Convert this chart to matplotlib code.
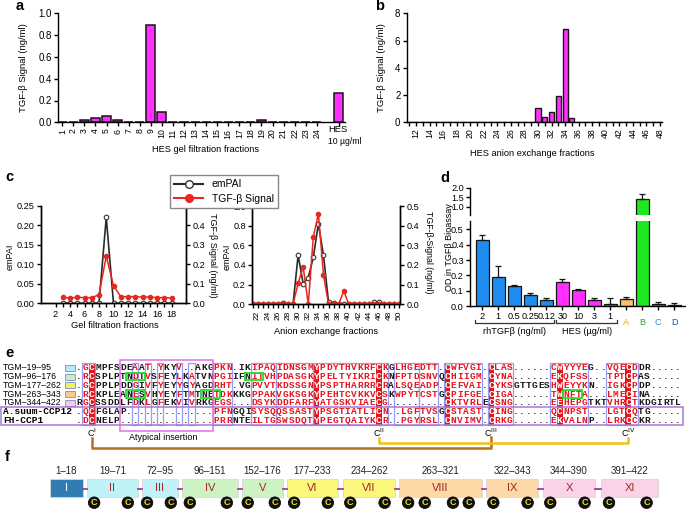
import matplotlib
matplotlib.use('Agg')
import matplotlib.pyplot as plt
from matplotlib.patches import Rectangle, Circle
from matplotlib.lines import Line2D
import numpy as np

W, H = 686, 512
plt.rcParams['font.family'] = ['Liberation Sans', 'DejaVu Sans']
plt.rcParams['axes.linewidth'] = 1.0
plt.rcParams['xtick.major.size'] = 3
plt.rcParams['ytick.major.size'] = 3
plt.rcParams['xtick.major.width'] = 1.0
plt.rcParams['ytick.major.width'] = 1.0
plt.rcParams['xtick.major.pad'] = 1.5
plt.rcParams['ytick.major.pad'] = 1.5
plt.rcParams['xtick.labelsize'] = 6.3
plt.rcParams['ytick.labelsize'] = 7
plt.rcParams['legend.framealpha'] = 1

# ---------------- data ----------------
# panel a
gel_fractions = [str(i) for i in range(1, 25)]
gel_signal = [0, 0, 0.02, 0.04, 0.06, 0.02, 0.005, 0, 0.89, 0.09, 0, 0,
              0, 0, 0, 0, 0, 0, 0.025, 0, 0, 0, 0, 0]
hes_label = 'HES'
hes_signal = 0.27

# panel b
aex_fractions = list(range(11, 49))
aex_signal = [0, 0, 0, 0, 0, 0, 0, 0, 0, 0,
              0, 0, 0, 0, 0, 0, 0, 0, 0,
              1.05, 0.40, 0.75, 1.95, 6.85, 0.30,
              0, 0, 0, 0, 0, 0, 0, 0, 0, 0, 0, 0, 0]

# panel c (left: gel filtration, right: anion exchange)
gf_fractions = list(range(3, 19))
gf_empai = [0, 0, 0, 0, 0, 0, 0.22, 0, 0, 0, 0, 0, 0, 0, 0, 0]
gf_tgf = [0.030, 0.027, 0.031, 0.029, 0.029, 0.044, 0.242, 0.090,
          0.034, 0.034, 0.034, 0.032, 0.032, 0.029, 0.029, 0.027]

ae_fractions = list(range(21, 51))
ae_empai = [0, 0, 0, 0, 0, 0, 0.01, 0, 0,
            0.50, 0.21, 0.27, 0.48, 0.82, 0.50,
            0.02, 0.01, 0, 0, 0, 0.005, 0, 0, 0,
            0.02, 0.02, 0, 0, 0, 0]
ae_tgf = [0, 0, 0, 0, 0, 0, 0, 0, 0,
          0.107, 0.19, 0, 0.344, 0.46, 0.15,
          0, 0, 0, 0.068, 0, 0, 0, 0, 0, 0, 0, 0, 0, 0, 0]

# panel d
d_labels = ['2', '1', '0.5', '0.25', '0.12', '30', '10', '3', '1', 'A', 'B', 'C', 'D']
d_values = [0.434, 0.192, 0.133, 0.070, 0.037, 0.159, 0.103, 0.037, 0.015,
            0.048, 1.42, 0.015, 0.009]
d_err = [0.031, 0.072, 0.004, 0.015, 0.018, 0.016, 0.008, 0.013, 0.037,
         0.011, 0.25, 0.009, 0.013]
d_groups = ['rhTGFβ (ng/ml)', 'HES (µg/ml)']

# panel e
seq_names = ['TGM–19–95', 'TGM–96–176', 'TGM–177–262', 'TGM–263–343', 'TGM–344–422',
             'A.suum-CCP12', 'FH-CCP1']
seqs = [
    ".GCMPFSDEAAT.YKYV..AKGPKN.IKIPAQIDNSGMYPDYTHVKRFCKGLHGEDTT.CWFVGI.CLAS......CWYYYEG..VQECDDR.....",
    ".RCSPLPTNDTVSFEYLKATVNPGIIFNITVHPDASGKYPELTYIKRICKNFPTDSNVQCHIIGM.CYNA......EKQFSS...TPTCPAS.....",
    ".GCPPLPDDGIVFYEYYGYAGDRHT.VGPVVTKDSSGNYPSPTHARRRCRALSQEADP.CEFVAI.CYKSGTTGESHWEYYKN..IGKCPDP.....",
    ".RCKPLEANESVHYEYFTMTNETDKKKGPPAKVGKSGKYPEHTCVKKVCSKWPYTCSTGCPIFGE.CIGA......TWNFTA...LMECINA.....",
    "RGCSSDDLFDKLGFEKVIVRKGEGS...DSYKDDFARFYATGSKVIAECG.........CKTVRLECSNG......EEHEPGTKTVHRCTKDGIRTL",
    ".QCFGLAP..............PFNGQISYSQQSSASTYPSGTIATLICN..LGFTVSGCSTAST.CING......QCNPST...LGTCQTG.....",
    ".DCNELP...............PRRNTEILTGSWSDQTYPEGTQAIYKCR..PGYRSL.CNVIMV.CRKG......EKVALNP..LRKCCKR.....",
]
identical_cols = [2, 38, 48, 59, 66, 77, 88]
similar_blocks = [(1, 2), (9, 9), (11, 11), (13, 13), (16, 16), (18, 18), (22, 24), (28, 31),
                  (32, 37), (38, 49), (51, 54), (55, 57), (59, 64), (66, 69), (76, 81), (85, 89)]
glyco_sites = [(1, 8, 10), (1, 27, 29), (3, 8, 10), (3, 20, 22), (3, 78, 80)]
cys_marks = [(2, 'I'), (48, 'II'), (66, 'III'), (88, 'IV')]
insertion_cols = (7, 21)

# panel f
dom_names = ['I', 'II', 'III', 'IV', 'V', 'VI', 'VII', 'VIII', 'IX', 'X', 'XI']
dom_ranges = ['1–18', '19–71', '72–95', '96–151', '152–176', '177–233', '234–262',
              '263–321', '322–343', '344–390', '391–422']
dom_cys = [0, 2, 2, 2, 2, 2, 2, 4, 2, 2, 2]

# ---------------- layout / style ----------------
fig = plt.figure(figsize=(W / 100, H / 100), dpi=100)


def R(x0, y0, x1, y1):
    return [x0 / W, 1 - y1 / H, (x1 - x0) / W, (y1 - y0) / H]


ov = fig.add_axes([0, 0, 1, 1])
ov.set_xlim(0, W)
ov.set_ylim(H, 0)
ov.axis('off')

MAG = '#ff30ff'
EDGE = '#151515'
RED = '#e8281e'


def style(ax):
    for s in ['top', 'right']:
        ax.spines[s].set_visible(False)
    ax.tick_params(direction='out')


def letter(x, y, s):
    ov.text(x, y, s, fontsize=10.5, fontweight='bold', ha='left', va='center')


# ---- panel a ----
axa = fig.add_axes(R(58.3, 13.3, 345, 122.3))
pos_a = list(range(1, len(gel_fractions) + 1))
hes_pos = len(gel_fractions) + 2
axa.bar(pos_a + [hes_pos], gel_signal + [hes_signal], width=0.82, color=MAG,
        edgecolor=EDGE, linewidth=1.1)
axa.set_xlim(0.64, 26.55)
axa.set_ylim(0, 1.0)
axa.set_yticks(np.arange(0, 1.01, 0.2))
axa.set_yticklabels(['%.1f' % v for v in np.arange(0, 1.01, 0.2)])
axa.set_xticks(pos_a + [hes_pos])
axa.set_xticklabels(gel_fractions + [''], rotation=90)
style(axa)
ov.text(338, 129, hes_label, fontsize=6.8, ha='center', va='center')
ov.text(345, 141, '10 µg/ml', fontsize=6.2, ha='center', va='center')
ov.text(24, 68, 'TGF-β Signal (ng/ml)', fontsize=6.8, rotation=90, ha='center', va='center')
ov.text(206, 150, 'HES gel filtration fractions', fontsize=6.7, ha='center', va='center')
letter(16, 6, 'a')

# ---- panel b ----
axb = fig.add_axes(R(406.7, 13.3, 662, 122.3))
axb.bar(aex_fractions, aex_signal, width=0.75, color=MAG, edgecolor=EDGE, linewidth=1.0)
axb.set_xlim(10.63, 48.3)
axb.set_ylim(0, 8)
axb.set_yticks([0, 2, 4, 6, 8])
axb.set_xticks(aex_fractions)
axb.set_xticklabels([str(f) if f % 2 == 0 else '' for f in aex_fractions], rotation=90)
style(axb)
ov.text(382, 68, 'TGF-β Signal (ng/ml)', fontsize=6.8, rotation=90, ha='center', va='center')
ov.text(532, 154, 'HES anion exchange fractions', fontsize=6.7, ha='center', va='center')
letter(375, 6, 'b')

# ---- panel c ----
BLK = '#2a2a2a'


def cpanel(rect, fr, emp, tgf, xlim, ylim_l, yt_l, fmt_l, rot):
    ax = fig.add_axes(rect)
    ax.plot(fr, emp, '-o', color=BLK, mfc='white', mec='#333333', ms=3.3, lw=1.2, mew=0.8)
    axt = ax.twinx()
    axt.plot(fr, tgf, '-o', color=RED, mfc=RED, mec=RED, ms=3.0, lw=1.1)
    ax.set_xlim(*xlim)
    ax.set_ylim(*ylim_l)
    axt.set_ylim(0, 0.5)
    ax.set_yticks(yt_l)
    ax.set_yticklabels([fmt_l % v for v in yt_l])
    axt.set_yticks(np.arange(0, 0.51, 0.1))
    axt.set_yticklabels(['%.1f' % v for v in np.arange(0, 0.51, 0.1)])
    for a in (ax, axt):
        a.spines['top'].set_visible(False)
        a.tick_params(direction='out', labelsize=6.6)
    ticks = list(range(int(np.ceil(xlim[0])), int(np.floor(xlim[1])) + 1))
    ax.set_xticks(ticks)
    ax.set_xticklabels([str(t) if t % 2 == 0 else '' for t in ticks], rotation=rot)
    ax.tick_params(axis='x', labelsize=6 if rot else 6.6)
    return ax, axt


cl, clt = cpanel(R(41, 205.7, 186, 303.3), gf_fractions, gf_empai, gf_tgf, (0, 20), (0, 0.25),
                 np.arange(0, 0.251, 0.05), '%.2f', 0)
cl.set_xticks([t for t in range(2, 19)])
cl.set_xticklabels([str(t) if t % 2 == 0 else '' for t in range(2, 19)])
cr, crt = cpanel(R(252, 206, 400, 304.3), ae_fractions, ae_empai, ae_tgf, (20.9, 50.1), (0, 1.0),
                 np.arange(0, 1.01, 0.2), '%.1f', 90)
ov.text(10, 257, 'emPAI', fontsize=6.5, rotation=90, ha='center', va='center')
ov.text(213, 255, 'TGF-β Signal (ng/ml)', fontsize=6.5, rotation=270, ha='center', va='center')
ov.text(227, 257, 'emPAI', fontsize=6.5, rotation=90, ha='center', va='center')
ov.text(428, 252, 'TGF-β-Signal (ng/ml)', fontsize=6.3, rotation=270, ha='center', va='center')
ov.text(115, 326, 'Gel filtration fractions', fontsize=6.7, ha='center', va='center')
ov.text(326, 331, 'Anion exchange fractions', fontsize=6.7, ha='center', va='center')
letter(5, 177, 'c')
handles = [Line2D([], [], color=BLK, marker='o', mfc='white', mec='#333333', ms=5.5, lw=1.5),
           Line2D([], [], color=RED, marker='o', mfc=RED, mec=RED, ms=5.5, lw=1.5)]
fig.legend(handles, ['emPAI', 'TGF-β Signal'], loc='upper left',
           bbox_to_anchor=(170 / W, 1 - 175 / H), fontsize=7.5, frameon=True, fancybox=False,
           edgecolor='#888888', borderpad=0.4, handlelength=2.8, labelspacing=0.45,
           borderaxespad=0, handletextpad=0.8)

# ---- panel d ----
d_colors = ['#1f8cf0'] * 5 + [MAG] * 4 + ['#f7c46c', '#1ee81e', '#2a9aa0', '#24324e']
d_text_colors = ['#f0a030', '#22aa44', '#2a8de0', '#1f4f9f']
x_d = np.arange(len(d_labels))
axd = fig.add_axes(R(470, 221, 685, 306))
axdu = fig.add_axes(R(470, 187.7, 685, 215))
for ax in (axd, axdu):
    ax.bar(x_d, d_values, width=0.8, color=d_colors, edgecolor=EDGE, linewidth=0.9)
    ax.errorbar(x_d, d_values, yerr=[np.zeros(len(d_err)), d_err], fmt='none', ecolor=EDGE,
                elinewidth=0.9, capsize=2.2, capthick=0.9)
    ax.set_xlim(-0.77, 12.67)
    ax.tick_params(labelsize=6.6)
axd.set_ylim(0, 0.555)
axd.set_yticks(np.arange(0, 0.51, 0.1))
axd.set_yticklabels(['%.1f' % v for v in np.arange(0, 0.51, 0.1)])
axd.set_xticks(x_d)
axd.set_xticklabels(d_labels[:9] + [''] * 4)
axd.tick_params(axis='x', labelsize=6.6)
style(axd)
axdu.set_ylim(0.58, 2.0)
axdu.set_yticks([1.0, 1.5, 2.0])
axdu.set_yticklabels(['1.0', '1.5', '2.0'])
axdu.set_xticks([])
for s in ['top', 'right', 'bottom']:
    axdu.spines[s].set_visible(False)
axdu.tick_params(direction='out')
tr = axd.get_xaxis_transform()
for i, (lab, col) in enumerate(zip(d_labels[9:], d_text_colors)):
    axd.text(9 + i, -0.19, lab, color=col, fontsize=6.6, ha='center', va='center',
             transform=tr, clip_on=False)
for (a, b), lab in zip([(-0.45, 4.45), (4.6, 8.45)], d_groups):
    axd.add_line(Line2D([a, a, b, b], [-0.17, -0.2, -0.2, -0.17], color='#333333', lw=0.9,
                        transform=tr, clip_on=False))
    axd.text((a + b) / 2, -0.3, lab, fontsize=6.6, ha='center', va='center', transform=tr,
             clip_on=False)
ov.text(449, 247, 'OD in TGFβ Bioassay', fontsize=6.5, rotation=90, ha='center', va='center')
letter(440, 178, 'd')

# ---- panel e ----
letter(5, 353, 'e')
COL0, CP = 79.2, 6.24
ROW0, RP = 367.7, 8.8


def cx(c):
    return COL0 + CP * c


def ry(r):
    return ROW0 + RP * r


nrow = len(seqs)
ncol = 97
seqs = [s.ljust(ncol, '.')[:ncol] for s in seqs]
for c in identical_cols:
    ov.add_patch(Rectangle((cx(c) - CP / 2, ry(0) - RP / 2), CP, RP * nrow, fc='#e3161c', ec='none',
                           zorder=1))
sim = set()
for c0, c1 in similar_blocks:
    sim.update(range(c0, c1 + 1))
    ov.add_patch(Rectangle((cx(c0) - CP / 2, ry(0) - RP / 2), (c1 - c0 + 1) * CP, RP * nrow,
                           fill=False, ec='#9a9cf0', lw=0.9, zorder=2))
for r, s in enumerate(seqs):
    for c, ch in enumerate(s):
        if c in identical_cols:
            col = 'white'
        elif ch != '.' and c in sim:
            col = '#e8141e'
        else:
            col = '#1a1a1a'
        ov.text(cx(c), ry(r), ch, fontsize=6.8, family='Liberation Mono', fontweight='bold',
                color=col, ha='center', va='center', zorder=3)
swatches = ['#b4ecfa', '#cdeeb6', '#f2f060', '#f9c894', '#f9c8e2']
for r, name in enumerate(seq_names):
    if r < len(swatches):
        ov.text(3, ry(r), name, fontsize=6.3, ha='left', va='center')
        ov.add_patch(Rectangle((65, ry(r) - 3), 10, 6, fc=swatches[r], ec='#8a9ad0', lw=0.7))
    else:
        ov.text(3, ry(r), name, fontsize=6.8, family='Liberation Mono', fontweight='bold',
                ha='left', va='center')
for r, c0, c1 in glyco_sites:
    ov.add_patch(Rectangle((cx(c0) - CP / 2, ry(r) - RP / 2 + 0.5), (c1 - c0 + 1) * CP, RP - 1,
                           fill=False, ec='#22dd22', lw=1.3, zorder=4))
ov.add_patch(Rectangle((cx(insertion_cols[0]) - CP / 2, 360), (insertion_cols[1] - insertion_cols[0] + 1) * CP,
                       71, fill=False, ec='#e070e0', lw=1.1, zorder=4))
ov.add_patch(Rectangle((1, ry(5) - RP / 2), cx(ncol - 1) + CP / 2 + 1, 2 * RP, fill=False,
                       ec='#a878d8', lw=1.1, zorder=4))
ov.text(163, 437, 'Atypical insertion', fontsize=6.5, ha='center', va='center')
for c, rn in cys_marks:
    ov.text(cx(c), 433, r'C$^{\mathrm{%s}}$' % rn, fontsize=6.5, ha='center', va='center')
ov.add_line(Line2D([cx(2), cx(2), cx(66), cx(66)], [438, 448, 448, 437], color='#b5701c', lw=1.8))
ov.add_line(Line2D([cx(48), cx(48), cx(88), cx(88)], [438, 443, 443, 438], color='#f2c010', lw=1.8))

# ---- panel f ----
letter(5, 457, 'f')
DOM_X = [(50, 83), (87, 138), (142, 178), (182, 238), (242, 283), (287, 338), (343, 395),
         (399, 482), (486, 538), (543, 595), (601, 658)]
DOM_C = ['#2f7db3', '#bff3f8', '#bff3f8', '#cdf2c4', '#cdf2c4', '#fbf77a', '#fbf77a',
         '#fdd9a8', '#fdd9a8', '#fbd3e6', '#fbd3e6']
CFRAC = {2: [0.14, 0.8], 4: [0.11, 0.31, 0.65, 0.84]}
BY0, BY1 = 479, 497
for i in range(len(DOM_X) - 1):
    ov.add_line(Line2D([DOM_X[i][1], DOM_X[i + 1][0]], [489, 489], color='#a03c9c', lw=1.3))
for i, (name, rng, nc) in enumerate(zip(dom_names, dom_ranges, dom_cys)):
    x0, x1 = DOM_X[i]
    ov.add_patch(Rectangle((x0, BY0), x1 - x0, BY1 - BY0, fc=DOM_C[i], ec='#d8d8d8', lw=0.6))
    ov.text((x0 + x1) / 2, 488, name, fontsize=8, ha='center', va='center',
            color='white' if i == 0 else '#a0282a')
    ov.text((x0 + x1) / 2, 471, rng, fontsize=7, ha='center', va='center', color='#222222')
    for fr in CFRAC.get(nc, []):
        xc = x0 + fr * (x1 - x0)
        ov.add_patch(Circle((xc, 502.7), 5.8, fc='#111111', ec='#000000', lw=0.5, zorder=5))
        ov.text(xc, 502.9, 'C', fontsize=6.5, fontweight='bold', color='#f0e020', ha='center',
                va='center', zorder=6)

fig.savefig('out.png', dpi=100)
